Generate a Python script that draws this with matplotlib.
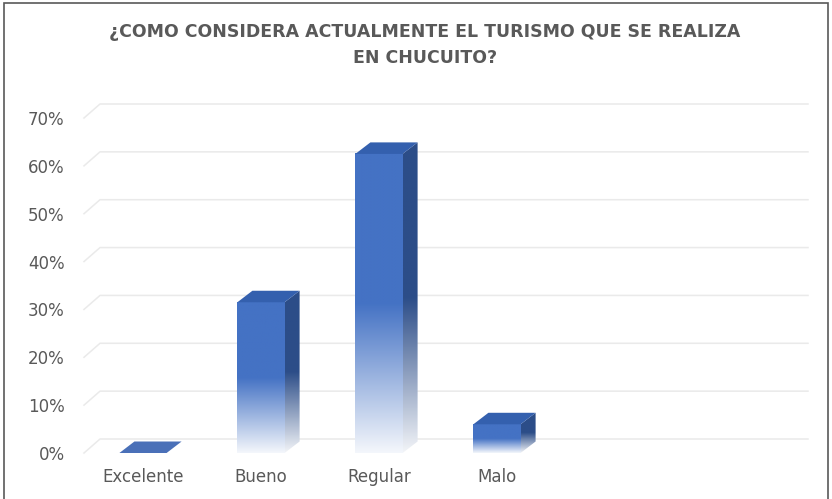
import numpy as np
import matplotlib
matplotlib.use('Agg')
import matplotlib.pyplot as plt
from matplotlib.patches import Polygon, Rectangle
from matplotlib.colors import to_rgb

# data
categories = ['Excelente', 'Bueno', 'Regular', 'Malo', '', '']
values = [0.0, 0.315, 0.625, 0.06, None, None]
yticks = [0.0, 0.1, 0.2, 0.3, 0.4, 0.5, 0.6, 0.7]
ytick_labels = ['0%', '10%', '20%', '30%', '40%', '50%', '60%', '70%']
title = '¿COMO CONSIDERA ACTUALMENTE EL TURISMO QUE SE REALIZA\nEN CHUCUITO?'

W, H = 832, 499
fig = plt.figure(figsize=(W / 100, H / 100), dpi=100)

# pixel helpers for layout
px_per_cat = 118.0
px_per_val = 478.6
wall_dx, wall_dy = 16 / px_per_cat, 14 / px_per_val   # back wall offset
bar_dx, bar_dy = 15 / px_per_cat, 11.5 / px_per_val   # bar depth
ax = fig.add_axes([84 / W, 1 - 453 / H, 724 / W, 349 / H])
xmin, xmax = -0.5, len(categories) - 0.5 + wall_dx
ymin, ymax = 0, 0.7 + wall_dy

grid_color = '#EAEAEA'
text_color = '#595959'
front_c = np.array(to_rgb('#4472C4'))
side_c = np.array(to_rgb('#2C4D88'))
top_c = np.array(to_rgb('#3460AE'))

# gridlines on the back wall with the short diagonal on the left
for y in yticks:
    ax.plot([xmin, xmin + wall_dx, xmax], [y, y + wall_dy, y + wall_dy],
            color=grid_color, lw=1.1, zorder=1, clip_on=False)


def gradient_img(color, n=200):
    t = np.linspace(0, 1, n)
    a = np.clip(0.06 + t / 0.5 * 0.94, 0, 1)
    rgb = (1 - a)[:, None] * np.ones(3) + a[:, None] * color
    return rgb[:, None, :]


bw = 0.4
for i, v in enumerate(values):
    if v is None:
        continue
    x0, x1 = i - bw / 2, i + bw / 2
    if v > 0:
        # front face
        ax.imshow(gradient_img(front_c), extent=(x0, x1, 0, v), origin='lower',
                  aspect='auto', zorder=3, interpolation='bilinear')
        # side face
        side = Polygon([(x1, 0), (x1 + bar_dx, bar_dy), (x1 + bar_dx, v + bar_dy), (x1, v)],
                       closed=True, facecolor='none', edgecolor='none')
        ax.add_patch(side)
        im2 = ax.imshow(gradient_img(side_c), extent=(x1, x1 + bar_dx, 0, v + bar_dy),
                        origin='lower', aspect='auto', zorder=2.5, interpolation='bilinear')
        im2.set_clip_path(side)
    # top face
    top = Polygon([(x0, v), (x1, v), (x1 + bar_dx, v + bar_dy), (x0 + bar_dx, v + bar_dy)],
                  closed=True, facecolor=top_c if v > 0 else '#4A70B8', edgecolor='none', zorder=4)
    ax.add_patch(top)

ax.set_xlim(xmin, xmax)
ax.set_ylim(ymin, ymax)
for s in ax.spines.values():
    s.set_visible(False)
ax.set_xticks(range(len(categories)))
ax.set_xticklabels(categories, fontsize=12, color=text_color)
ax.set_yticks(yticks)
ax.set_yticklabels(ytick_labels, fontsize=12, color=text_color)
ax.tick_params(axis='both', length=0)
ax.tick_params(axis='y', pad=14)
ax.tick_params(axis='x', pad=11)

fig.text(425 / W, 1 - 45 / H, title, ha='center', va='center', fontsize=12.5,
         fontweight='bold', color=text_color, linespacing=1.55,
         family=['Liberation Sans Narrow', 'DejaVu Sans'])

# chart border
fig.patches.append(Rectangle((4 / W, -0.01), 824 / W, 1 - 3 / H + 0.01, transform=fig.transFigure,
                             fill=False, edgecolor='#595959', lw=1.2))

fig.savefig('out.png', dpi=100)
